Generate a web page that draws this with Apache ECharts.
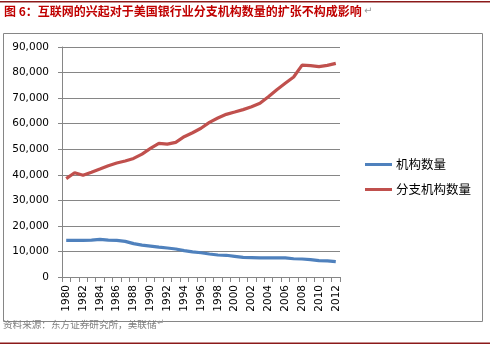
<!DOCTYPE html>
<html>
<head>
<meta charset="utf-8">
<style>
  html, body { margin: 0; padding: 0; background: #ffffff; }
  #chart { width: 490px; height: 348px; }
</style>
<script src="https://cdn.jsdelivr.net/npm/echarts@6/dist/echarts.min.js"></script>
</head>
<body>
<div id="chart"></div>
<script>
// Years on the category axis
const years = [
  '1980','1981','1982','1983','1984','1985','1986','1987','1988','1989',
  '1990','1991','1992','1993','1994','1995','1996','1997','1998','1999',
  '2000','2001','2002','2003','2004','2005','2006','2007','2008','2009',
  '2010','2011','2012'
];

// Number of banking institutions
const institutions = [
  14350, 14350, 14350, 14450, 14700, 14450, 14350, 13950, 13050, 12500,
  12100, 11700, 11350, 10950, 10300, 9800, 9500, 9000, 8600, 8500,
  8100, 7700, 7600, 7450, 7500, 7500, 7450, 7150, 7050, 6800,
  6400, 6300, 6000
];

// Number of branch offices
const branches = [
  38500, 40800, 39800, 41000, 42250, 43550, 44600, 45400, 46400, 48100,
  50300, 52300, 52000, 52700, 54900, 56450, 58200, 60500, 62200, 63650,
  64550, 65500, 66600, 67950, 70550, 73300, 75800, 78250, 82900, 82700,
  82300, 82800, 83600
];

const seriesNames = ['机构数量', '分支机构数量'];
const titleText = '图 6：互联网的兴起对于美国银行业分支机构数量的扩张不构成影响';
const sourceText = '资料来源：东方证券研究所，美联储';

const cjk = '"Noto Sans CJK SC", sans-serif';
const latin = '"DejaVu Sans", Verdana, sans-serif';
const gridGrey = '#868686';
const accentRed = '#8b1a1a';

const chart = echarts.init(document.getElementById('chart'), null, { renderer: 'canvas' });

chart.setOption({
  animation: false,
  backgroundColor: '#ffffff',
  grid: { left: 62, right: 150, top: 47, bottom: 71, containLabel: false },
  legend: {
    orient: 'vertical',
    left: 360,
    top: 152,
    icon: 'rect',
    itemWidth: 27,
    itemHeight: 3,
    itemGap: 10,
    data: seriesNames,
    textStyle: { fontFamily: cjk, fontSize: 12.5, color: '#000', lineHeight: 15, padding: [0, 0, 0, -1] }
  },
  xAxis: {
    type: 'category',
    data: years,
    boundaryGap: true,
    axisLine: { show: true, lineStyle: { color: gridGrey, width: 1 } },
    axisTick: { show: true, interval: 0, length: 5, lineStyle: { color: gridGrey } },
    axisLabel: {
      interval: 1,
      rotate: 90,
      margin: 8,
      fontFamily: latin,
      fontSize: 10.5,
      color: '#000'
    },
    splitLine: { show: false }
  },
  yAxis: {
    type: 'value',
    min: 0,
    max: 90000,
    interval: 10000,
    axisLine: { show: true, lineStyle: { color: gridGrey, width: 1 } },
    axisTick: { show: true, length: 4, lineStyle: { color: gridGrey } },
    axisLabel: {
      margin: 13,
      fontFamily: latin,
      fontSize: 10.5,
      color: '#000',
      formatter: v => v.toLocaleString('en-US')
    },
    splitLine: { show: true, lineStyle: { color: gridGrey, width: 1 } }
  },
  series: [
    {
      name: seriesNames[0],
      type: 'line',
      data: institutions,
      symbol: 'none',
      smooth: false,
      lineStyle: { color: '#4f81bd', width: 3.2 },
      itemStyle: { color: '#4f81bd' }
    },
    {
      name: seriesNames[1],
      type: 'line',
      data: branches,
      symbol: 'none',
      smooth: false,
      lineStyle: { color: '#c0504d', width: 3.2 },
      itemStyle: { color: '#c0504d' }
    }
  ],
  graphic: [
    // top rule
    { type: 'rect', shape: { x: 0, y: 1, width: 490, height: 1.5 }, style: { fill: accentRed }, silent: true },
    // heading
    {
      type: 'text', left: 4, top: 5,
      style: { text: titleText, fill: '#c00000', font: 'bold 12px ' + cjk }
    },
    {
      type: 'text', left: 364, top: 6,
      style: { text: '↵', fill: '#999', font: '10px ' + latin }
    },
    // chart frame
    {
      type: 'rect', shape: { x: 3.5, y: 33.5, width: 479, height: 288 },
      style: { fill: 'none', stroke: gridGrey, lineWidth: 1 }, silent: true, z: -1
    },
    // source note
    {
      type: 'text', left: 3, top: 320,
      style: { text: sourceText, fill: '#7f7f7f', font: '9.6px ' + cjk }
    },
    {
      type: 'text', left: 157, top: 318,
      style: { text: '↵', fill: '#999', font: '9px ' + latin }
    },
    // bottom rule
    { type: 'rect', shape: { x: 0, y: 342.5, width: 490, height: 1.5 }, style: { fill: accentRed }, silent: true }
  ]
});
</script>
</body>
</html>
